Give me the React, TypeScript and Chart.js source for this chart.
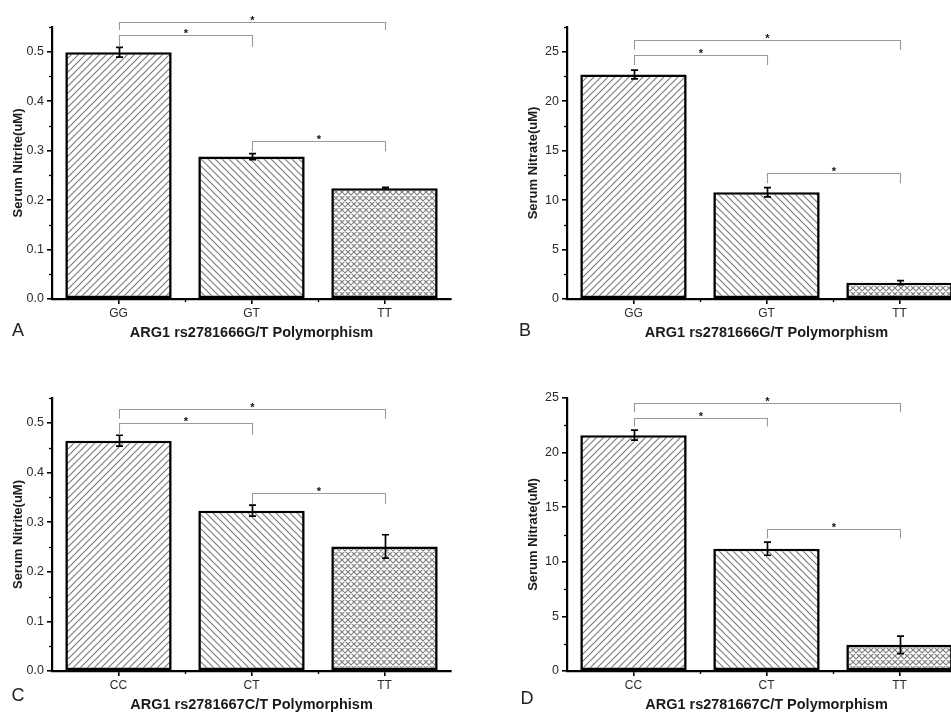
import React, { useEffect, useRef } from "react";
import { Chart, registerables } from "chart.js";

Chart.register(...registerables);

// ---------- data ----------
const categoriesRs2781666 = ["GG", "GT", "TT"];
const categoriesRs2781667 = ["CC", "CT", "TT"];

const nitriteA = [0.499, 0.288, 0.224];
const nitriteAErr = [0.01, 0.006, 0.002];

const nitrateB = [22.7, 10.8, 1.65];
const nitrateBErr = [0.45, 0.47, 0.2];

const nitriteC = [0.464, 0.323, 0.251];
const nitriteCErr = [0.011, 0.011, 0.0235];

const nitrateD = [21.6, 11.2, 2.4];
const nitrateDErr = [0.46, 0.6, 0.8];

const nitriteTicks = [0, 0.1, 0.2, 0.3, 0.4, 0.5];
const nitriteTickLabels = ["0.0", "0.1", "0.2", "0.3", "0.4", "0.5"];
const nitrateTicks = [0, 5, 10, 15, 20, 25];
const nitrateTickLabels = ["0", "5", "10", "15", "20", "25"];

// significance brackets: [fromIndex, toIndex, lineValue, legEndValue]
const bracketsA = [[0, 2, 0.561, 0.544], [0, 1, 0.534, 0.51], [1, 2, 0.319, 0.299]];
const bracketsB = [[0, 2, 26.2, 25.2], [0, 1, 24.7, 23.65], [1, 2, 12.73, 11.7]];
const bracketsC = [[0, 2, 0.528, 0.508], [0, 1, 0.499, 0.476], [1, 2, 0.358, 0.337]];
const bracketsD = [[0, 2, 24.57, 23.7], [0, 1, 23.2, 22.4], [1, 2, 13.03, 12.15]];

const FONT = "'Liberation Sans', Arial, Helvetica, sans-serif";

type PanelCfg = {
  letter: string;
  cats: string[];
  values: number[];
  errs: number[];
  max: number;
  ticks: number[];
  tickLabels: string[];
  brackets: number[][];
  yTitle: string;
  xTitle: string;
  box: { left: number; top: number; w: number; h: number };
  area: { l: number; t: number; r: number; b: number };
  xTitleY: number;
  letterPos: [number, number];
};

const panels: PanelCfg[] = [
  {
    letter: "A", cats: categoriesRs2781666, values: nitriteA, errs: nitriteAErr, max: 0.55,
    ticks: nitriteTicks, tickLabels: nitriteTickLabels, brackets: bracketsA,
    yTitle: "Serum Nitrite(uM)", xTitle: "ARG1 rs2781666G/T Polymorphism",
    box: { left: 0, top: 0, w: 475, h: 356 }, area: { l: 52, t: 27, r: 451, b: 299 },
    xTitleY: 333, letterPos: [18, 331],
  },
  {
    letter: "B", cats: categoriesRs2781666, values: nitrateB, errs: nitrateBErr, max: 27.5,
    ticks: nitrateTicks, tickLabels: nitrateTickLabels, brackets: bracketsB,
    yTitle: "Serum Nitrate(uM)", xTitle: "ARG1 rs2781666G/T Polymorphism",
    box: { left: 475, top: 0, w: 500, h: 356 }, area: { l: 567, t: 27, r: 966, b: 299 },
    xTitleY: 333, letterPos: [525, 331],
  },
  {
    letter: "C", cats: categoriesRs2781667, values: nitriteC, errs: nitriteCErr, max: 0.55,
    ticks: nitriteTicks, tickLabels: nitriteTickLabels, brackets: bracketsC,
    yTitle: "Serum Nitrite(uM)", xTitle: "ARG1 rs2781667C/T Polymorphism",
    box: { left: 0, top: 356, w: 475, h: 357 }, area: { l: 52, t: 398, r: 451, b: 671 },
    xTitleY: 705, letterPos: [18, 696],
  },
  {
    letter: "D", cats: categoriesRs2781667, values: nitrateD, errs: nitrateDErr, max: 25,
    ticks: nitrateTicks, tickLabels: nitrateTickLabels, brackets: bracketsD,
    yTitle: "Serum Nitrate(uM)", xTitle: "ARG1 rs2781667C/T Polymorphism",
    box: { left: 475, top: 356, w: 500, h: 357 }, area: { l: 567, t: 398, r: 966, b: 671 },
    xTitleY: 705, letterPos: [527, 699],
  },
];

// ---------- hatch patterns ----------
function makePattern(kind: "fwd" | "back" | "cross"): CanvasPattern | string {
  const s = kind === "cross" ? 6 : 7;
  const c = document.createElement("canvas");
  c.width = s;
  c.height = s;
  const g = c.getContext("2d");
  if (!g) return "#fff";
  g.fillStyle = "#ffffff";
  g.fillRect(0, 0, s, s);
  g.strokeStyle = "#7d7d7d";
  g.lineWidth = 1.15;
  g.beginPath();
  if (kind === "fwd" || kind === "cross") {
    g.moveTo(0, s); g.lineTo(s, 0);
    g.moveTo(-1, 1); g.lineTo(1, -1);
    g.moveTo(s - 1, s + 1); g.lineTo(s + 1, s - 1);
  }
  if (kind === "back" || kind === "cross") {
    g.moveTo(0, 0); g.lineTo(s, s);
    g.moveTo(-1, s - 1); g.lineTo(1, s + 1);
    g.moveTo(s - 1, -1); g.lineTo(s + 1, 1);
  }
  g.stroke();
  const pat = g.createPattern(c, "repeat");
  return pat || "#fff";
}

function Panel({ cfg }: { cfg: PanelCfg }) {
  const ref = useRef<HTMLCanvasElement>(null);

  useEffect(() => {
    const canvas = ref.current;
    if (!canvas) return;
    const { box, area } = cfg;
    const aL = area.l - box.left;
    const aR = area.r - box.left;
    const aT = area.t - box.top;
    const aB = area.b - box.top;

    const annot = {
      id: "annot",
      afterDatasetsDraw(chart: any) {
        const ctx: CanvasRenderingContext2D = chart.ctx;
        const xs = chart.scales.x;
        const ys = chart.scales.y;
        ctx.save();

        // minor ticks on y
        ctx.strokeStyle = "#000";
        ctx.lineWidth = 1.3;
        const step = cfg.ticks[1] - cfg.ticks[0];
        for (let i = 0; i < cfg.ticks.length; i++) {
          const v = cfg.ticks[i] + step / 2;
          if (v > cfg.max + 1e-9) continue;
          const py = Math.round(ys.getPixelForValue(v)) + 0.5;
          ctx.beginPath();
          ctx.moveTo(aL - 3, py);
          ctx.lineTo(aL, py);
          ctx.stroke();
        }
        // minor ticks on x (between categories)
        for (let i = 0; i < cfg.cats.length - 1; i++) {
          const px = Math.round((xs.getPixelForValue(i) + xs.getPixelForValue(i + 1)) / 2) + 0.5;
          ctx.beginPath();
          ctx.moveTo(px, aB);
          ctx.lineTo(px, aB + 3);
          ctx.stroke();
        }

        // error bars
        ctx.strokeStyle = "#000";
        ctx.lineWidth = 1.7;
        cfg.values.forEach((v, i) => {
          const cx = Math.round(xs.getPixelForValue(i)) + 0.5;
          const yt = ys.getPixelForValue(v + cfg.errs[i]);
          const yb = ys.getPixelForValue(v - cfg.errs[i]);
          ctx.beginPath();
          ctx.moveTo(cx, yt);
          ctx.lineTo(cx, yb);
          ctx.moveTo(cx - 3.5, yt);
          ctx.lineTo(cx + 3.5, yt);
          ctx.moveTo(cx - 3.5, yb);
          ctx.lineTo(cx + 3.5, yb);
          ctx.stroke();
        });

        // significance brackets
        cfg.brackets.forEach(([a, b, lv, ev]) => {
          const x1 = Math.round(xs.getPixelForValue(a)) + 0.5;
          const x2 = Math.round(xs.getPixelForValue(b)) + 0.5;
          const yl = Math.round(ys.getPixelForValue(lv)) + 0.5;
          const ye = ys.getPixelForValue(ev);
          ctx.strokeStyle = "#9a9a9a";
          ctx.lineWidth = 1.1;
          ctx.beginPath();
          ctx.moveTo(x1, ye);
          ctx.lineTo(x1, yl);
          ctx.lineTo(x2, yl);
          ctx.lineTo(x2, ye);
          ctx.stroke();
          ctx.fillStyle = "#111";
          ctx.font = `bold 11px ${FONT}`;
          ctx.textAlign = "center";
          ctx.textBaseline = "alphabetic";
          ctx.fillText("*", (x1 + x2) / 2, yl + 1.5);
        });

        // titles
        ctx.fillStyle = "#1a1a1a";
        ctx.font = `bold 13px ${FONT}`;
        ctx.textAlign = "center";
        ctx.textBaseline = "middle";
        ctx.save();
        ctx.translate(aL - 34, (aT + aB) / 2);
        ctx.rotate(-Math.PI / 2);
        ctx.fillText(cfg.yTitle, 0, 0);
        ctx.restore();

        ctx.font = `bold 14.5px ${FONT}`;
        ctx.fillText(cfg.xTitle, (aL + aR) / 2, cfg.xTitleY - box.top);

        ctx.font = `18px ${FONT}`;
        ctx.fillStyle = "#222";
        ctx.fillText(cfg.letter, cfg.letterPos[0] - box.left, cfg.letterPos[1] - box.top);

        ctx.restore();
      },
    };

    const chart = new Chart(canvas, {
      type: "bar",
      data: {
        labels: cfg.cats,
        datasets: [
          {
            data: cfg.values,
            backgroundColor: [makePattern("fwd"), makePattern("back"), makePattern("cross")] as any,
            borderColor: "#000",
            borderWidth: 2.6,
            borderSkipped: false,
            barPercentage: 0.8,
            categoryPercentage: 1,
          },
        ],
      },
      options: {
        responsive: false,
        animation: false,
        events: [],
        layout: { padding: { left: 0, top: aT, right: box.w - aR, bottom: 0 } },
        plugins: { legend: { display: false }, tooltip: { enabled: false }, title: { display: false } },
        scales: {
          x: {
            type: "category",
            offset: true,
            grid: {
              display: true,
              drawOnChartArea: false,
              drawTicks: true,
              tickLength: 5,
              offset: false,
              color: "#000",
              lineWidth: 1.6,
            },
            border: { display: true, color: "#000", width: 2.2 },
            ticks: { color: "#2a2a2a", font: { size: 12, family: FONT }, padding: 2, maxRotation: 0 },
            afterFit: (s: any) => {
              s.height = box.h - aB;
            },
          },
          y: {
            type: "linear",
            min: 0,
            max: cfg.max,
            afterBuildTicks: (s: any) => {
              s.ticks = cfg.ticks.map((v) => ({ value: v }));
            },
            grid: {
              display: true,
              drawOnChartArea: false,
              drawTicks: true,
              tickLength: 5,
              color: "#000",
              lineWidth: 1.6,
            },
            border: { display: true, color: "#000", width: 2.2 },
            ticks: {
              color: "#2a2a2a",
              font: { size: 12.5, family: FONT },
              padding: 3,
              callback: (_v: any, i: number) => cfg.tickLabels[i],
            },
            afterFit: (s: any) => {
              s.width = aL;
            },
          },
        },
      } as any,
      plugins: [annot],
    });

    return () => chart.destroy();
  }, [cfg]);

  return (
    <canvas
      ref={ref}
      width={cfg.box.w}
      height={cfg.box.h}
      style={{
        position: "absolute",
        left: cfg.box.left,
        top: cfg.box.top,
        width: cfg.box.w,
        height: cfg.box.h,
      }}
    />
  );
}

export default function App() {
  return (
    <div
      style={{
        position: "fixed",
        left: 0,
        top: 0,
        width: 951,
        height: 713,
        overflow: "hidden",
        background: "#fff",
      }}
    >
      {panels.map((p) => (
        <Panel key={p.letter} cfg={p} />
      ))}
    </div>
  );
}
